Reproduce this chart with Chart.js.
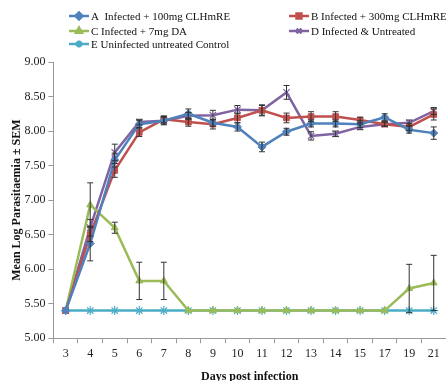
<!DOCTYPE html>
<html lang="en">
<head>
    <meta charset="UTF-8">
    <title>Parasitaemia</title>
    <script src="https://cdn.jsdelivr.net/npm/chart.js"></script>
    <style>
        body { margin: 0; background: #fff; }
        .chart-box { position: relative; width: 446px; height: 381px; }
    </style>
</head>
<body>
    <div class="chart-box">
        <canvas id="parasitChart"></canvas>
    </div>

<script>
    // days post infection
    var dias = ["3", "4", "5", "6", "7", "8", "9", "10", "11", "12", "13", "14", "15", "17", "19", "21"];

    var serieA = [5.40, 6.37, 7.58, 8.10, 8.15, 8.25, 8.12, 8.06, 7.77, 7.99, 8.11, 8.11, 8.10, 8.20, 8.02, 7.97];
    var erroA = [0, 0.25, 0.10, 0.05, 0.06, 0.07, 0.05, 0.06, 0.07, 0.05, 0.05, 0.05, 0.05, 0.05, 0.05, 0.09];

    var serieB = [5.40, 6.50, 7.43, 7.98, 8.17, 8.13, 8.10, 8.19, 8.30, 8.19, 8.21, 8.21, 8.16, 8.10, 8.06, 8.24];
    var erroB = [0, 0.10, 0.10, 0.06, 0.05, 0.06, 0.07, 0.07, 0.08, 0.07, 0.07, 0.07, 0.04, 0.03, 0.05, 0.08];

    var serieC = [5.40, 6.93, 6.60, 5.83, 5.83, 5.40, 5.40, 5.40, 5.40, 5.40, 5.40, 5.40, 5.40, 5.40, 5.72, 5.80];
    var erroC = [0, 0.32, 0.08, 0.27, 0.27, 0, 0, 0, 0, 0, 0, 0, 0, 0, 0.35, 0.40];

    var serieD = [5.40, 6.60, 7.69, 8.13, 8.15, 8.22, 8.23, 8.31, 8.30, 8.56, 7.93, 7.96, 8.06, 8.10, 8.12, 8.29];
    var erroD = [0, 0.12, 0.12, 0.04, 0.05, 0.05, 0.07, 0.06, 0.07, 0.10, 0.06, 0.04, 0.04, 0.03, 0.04, 0.05];

    var serieE = [5.40, 5.40, 5.40, 5.40, 5.40, 5.40, 5.40, 5.40, 5.40, 5.40, 5.40, 5.40, 5.40, 5.40, 5.40, 5.40];

    var fonte = "'Liberation Serif', 'Times New Roman', serif";

    // error bars drawn from the y scale
    var barrasErro = {
        id: "barrasErro",
        afterDatasetsDraw: function (chart) {
            var ctx = chart.ctx;
            var y = chart.scales.y;
            ctx.save();
            ctx.strokeStyle = "#333";
            ctx.lineWidth = 1;
            chart.data.datasets.forEach(function (ds, d) {
                if (!ds.erro) return;
                var meta = chart.getDatasetMeta(d);
                for (var i = 0; i < ds.data.length; i++) {
                    var e = ds.erro[i];
                    if (!e) continue;
                    var px = meta.data[i].x;
                    var top = y.getPixelForValue(ds.data[i] + e);
                    var bot = y.getPixelForValue(ds.data[i] - e);
                    ctx.beginPath();
                    ctx.moveTo(px, top); ctx.lineTo(px, bot);
                    ctx.moveTo(px - 3, top); ctx.lineTo(px + 3, top);
                    ctx.moveTo(px - 3, bot); ctx.lineTo(px + 3, bot);
                    ctx.stroke();
                }
            });
            ctx.restore();
        }
    };

    // two column legend like the original
    var legenda = {
        id: "legenda",
        afterDraw: function (chart) {
            var ctx = chart.ctx;
            var lugares = [[69, 16], [289, 16], [69, 31], [289, 31], [69, 44]];
            ctx.save();
            ctx.font = "11px " + fonte;
            ctx.textBaseline = "middle";
            chart.data.datasets.forEach(function (ds, d) {
                var p = lugares[d];
                ctx.strokeStyle = ds.borderColor;
                ctx.lineWidth = 2.5;
                ctx.beginPath();
                ctx.moveTo(p[0], p[1]);
                ctx.lineTo(p[0] + 20, p[1]);
                ctx.stroke();
                ctx.fillStyle = ds.borderColor;
                Chart.helpers.drawPoint(ctx, {
                    pointStyle: ds.pointStyle,
                    radius: 3.5,
                    borderWidth: ds.pointStyle === "star" || ds.pointStyle === "crossRot" ? 1.5 : 1
                }, p[0] + 10, p[1]);
                ctx.fillStyle = "#111";
                ctx.fillText(ds.label, p[0] + 22, p[1] + 1);
            });
            ctx.restore();
        }
    };

    function serie(nome, dados, erro, cor, marcador) {
        var fino = marcador === "star" || marcador === "crossRot";
        return {
            label: nome,
            data: dados,
            erro: erro,
            borderColor: cor,
            backgroundColor: cor,
            pointBackgroundColor: cor,
            pointBorderColor: cor,
            pointStyle: marcador,
            pointRadius: fino ? 4.5 : 4,
            pointBorderWidth: fino ? 1.2 : 1,
            borderWidth: 2.5,
            tension: 0
        };
    }

    new Chart(document.getElementById("parasitChart"), {
        type: "line",
        data: {
            labels: dias,
            datasets: [
                serie("A  Infected + 100mg CLHmRE", serieA, erroA, "#4F81BD", "rectRot"),
                serie("B Infected + 300mg CLHmRE", serieB, erroB, "#C0504D", "rect"),
                serie("C Infected + 7mg DA", serieC, erroC, "#9BBB59", "triangle"),
                serie("D Infected & Untreated", serieD, erroD, "#8064A2", "crossRot"),
                serie("E Uninfected untreated Control", serieE, null, "#4BACC6", "star")
            ]
        },
        options: {
            responsive: true,
            maintainAspectRatio: false,
            animation: false,
            layout: { autoPadding: false, padding: { top: 62, right: 0, left: 10, bottom: -3 } },
            plugins: {
                legend: { display: false },
                tooltip: { enabled: false }
            },
            scales: {
                x: {
                    offset: true,
                    afterFit: function (s) { s.paddingLeft = 0; s.paddingRight = 0; },
                    grid: { display: true, drawOnChartArea: false, offset: true, color: "#999", tickLength: 5 },
                    border: { color: "#999" },
                    ticks: { color: "#222", font: { family: fonte, size: 12 }, padding: 3 },
                    title: { display: true, text: "Days post infection", color: "#111", font: { family: fonte, size: 12, weight: "bold" }, padding: { top: 6, bottom: 0 } }
                },
                y: {
                    min: 5,
                    max: 9,
                    ticks: {
                        stepSize: 0.5,
                        color: "#222",
                        font: { family: fonte, size: 12 },
                        padding: 3,
                        callback: function (v) { return v.toFixed(2); }
                    },
                    grid: { display: true, drawOnChartArea: false, color: "#999", tickLength: 5 },
                    border: { color: "#999" },
                    title: { display: true, text: "Mean Log Parasitaemia \u00b1 SEM", color: "#111", font: { family: fonte, size: 12, weight: "bold" }, padding: { top: 0, bottom: -3 } }
                }
            }
        },
        plugins: [barrasErro, legenda]
    });
</script>
</body>
</html>
